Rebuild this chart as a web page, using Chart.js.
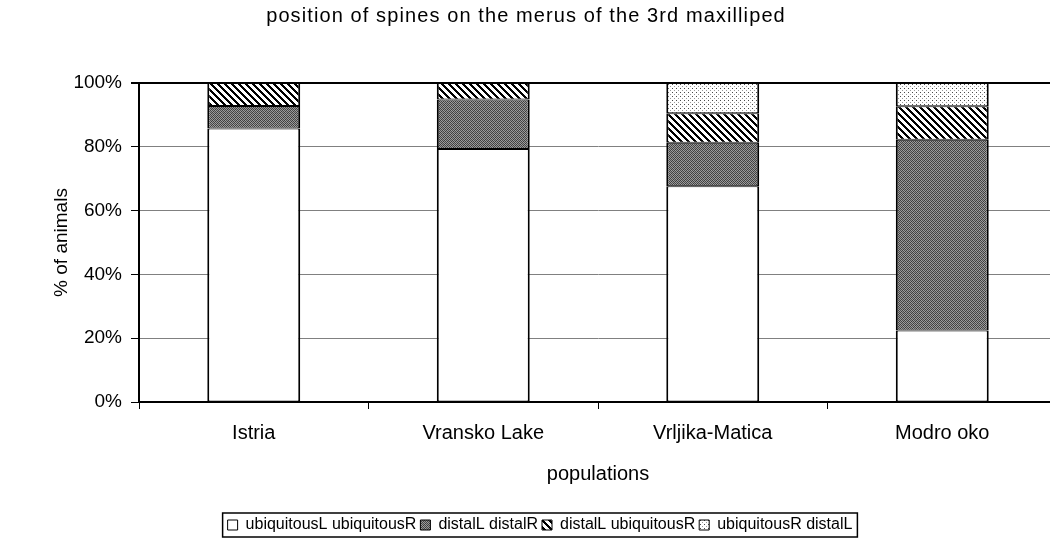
<!DOCTYPE html>
<html>
<head>
<meta charset="utf-8">
<script src="https://cdn.jsdelivr.net/npm/chart.js@4/dist/chart.umd.min.js"></script>
<style>
	body { margin: 0; overflow: hidden; background: #fff; }
	#wrap { width: 1050px; height: 549px; overflow: hidden; }
</style>
</head>
<body>
<div id="wrap"><canvas id="chart" width="1070" height="549"></canvas></div>
<script>
var chartTitle = "position of spines on the merus of the 3rd maxilliped";
var populations = ["Istria", "Vransko Lake", "Vrljika-Matica", "Modro oko"];
var seriesNames = ["ubiquitousL ubiquitousR", "distalL distalR", "distalL ubiquitousR", "ubiquitousR distalL"];
var ubiquitousLR = [85.7, 79.3, 67.6, 22.4];
var distalLR = [7.1, 15.5, 13.7, 59.8];
var distalLubiquitousR = [7.2, 5.2, 9.2, 10.5];
var ubiquitousRdistalL = [0, 0, 9.5, 7.3];
var yTicks = [0, 20, 40, 60, 80, 100];

var fontFamily = '"Liberation Sans", Arial, sans-serif';

function makePattern(size, paint) {
	var c = document.createElement("canvas");
	c.width = size;
	c.height = size;
	var g = c.getContext("2d");
	paint(g, size);
	return g.createPattern(c, "repeat");
}

// dark stipple
var stipple = makePattern(4, function (g) {
	var cells = [
		["#3e3e3e", "#a0a0a0", "#505050", "#8e8e8e"],
		["#949494", "#444444", "#9c9c9c", "#3a3a3a"],
		["#4e4e4e", "#989898", "#404040", "#a2a2a2"],
		["#9e9e9e", "#3c3c3c", "#909090", "#4a4a4a"]
	];
	for (var y = 0; y < 4; y++) {
		for (var x = 0; x < 4; x++) {
			g.fillStyle = cells[y][x];
			g.fillRect(x, y, 1, 1);
		}
	}
});

// diagonal hatch, down to the right
var hatch = makePattern(7, function (g, s) {
	g.fillStyle = "#fff";
	g.fillRect(0, 0, s, s);
	g.fillStyle = "#000";
	for (var y = 0; y < s; y++) {
		for (var x = 0; x < s; x++) {
			if ((x - y + s) % s < 3) g.fillRect(x, y, 1, 1);
		}
	}
});

// light dots
var dots = makePattern(4, function (g) {
	g.fillStyle = "#fff";
	g.fillRect(0, 0, 4, 4);
	g.fillStyle = "#4a4a4a";
	g.fillRect(0, 0, 1, 1);
	g.fillStyle = "#9a9a9a";
	g.fillRect(2, 2, 1, 1);
});

var fills = ["#ffffff", stipple, hatch, dots];
var values = [ubiquitousLR, distalLR, distalLubiquitousR, ubiquitousRdistalL];

var datasets = seriesNames.map(function (name, i) {
	return {
		label: name,
		data: values[i],
		backgroundColor: fills[i],
		borderColor: "#000",
		borderWidth: { top: 1, bottom: 1, left: 2, right: 2 },
		borderSkipped: false,
		barPercentage: 0.405,
		categoryPercentage: 1
	};
});

var extras = {
	id: "extras",
	afterDraw: function (chart) {
		var ctx = chart.ctx;
		ctx.save();
		ctx.fillStyle = "#000";
		ctx.font = "20px " + fontFamily;
		ctx.letterSpacing = "1.1px";
		ctx.textAlign = "center";
		ctx.textBaseline = "middle";
		ctx.fillText(chartTitle, 526, 16);
		ctx.letterSpacing = "0px";

		var boxes = chart.legend.legendHitBoxes;
		if (boxes && boxes.length) {
			var left = boxes[0].left - 5;
			var last = boxes[boxes.length - 1];
			var right = last.left + last.width + 5;
			var top = boxes[0].top - 4;
			var bottom = boxes[0].top + boxes[0].height + 4;
			ctx.strokeStyle = "#000";
			ctx.lineWidth = 1.5;
			ctx.strokeRect(left, top, right - left, bottom - top);
		}
		ctx.restore();
	}
};

new Chart(document.getElementById("chart").getContext("2d"), {
	type: "bar",
	data: {
		labels: populations,
		datasets: datasets
	},
	plugins: [extras],
	options: {
		responsive: false,
		animation: false,
		layout: { padding: { left: 23, right: 13, top: 83, bottom: 6 } },
		plugins: {
			title: { display: false },
			tooltip: { enabled: false },
			legend: {
				position: "bottom",
				labels: {
					color: "#000",
					font: { family: fontFamily, size: 16 },
					boxWidth: 10,
					boxHeight: 10,
					padding: 4,
					generateLabels: function (chart) {
						var items = Chart.defaults.plugins.legend.labels.generateLabels(chart);
						items.forEach(function (it) { it.lineWidth = 1; });
						return items;
					}
				}
			}
		},
		scales: {
			x: {
				stacked: true,
				afterFit: function (scale) {
					scale.height = 549 - 6 - scale.chart.legend.height - 402;
				},
				grid: { drawOnChartArea: false, drawTicks: true, tickLength: 7, tickColor: "#000" },
				border: { color: "#000", width: 2 },
				ticks: { color: "#000", padding: 12, font: { family: fontFamily, size: 20 } },
				title: {
					display: true,
					text: "populations",
					color: "#000",
					font: { family: fontFamily, size: 20 },
					padding: { top: 0, bottom: 27 }
				}
			},
			y: {
				stacked: true,
				min: 0,
				max: 100,
				afterFit: function (scale) {
					scale.width = 116;
				},
				afterBuildTicks: function (scale) {
					scale.ticks = yTicks.map(function (v) { return { value: v }; });
				},
				grid: {
					color: function (c) { return c.tick && c.tick.value === 100 ? "#000" : "#808080"; },
					lineWidth: function (c) { return c.tick && c.tick.value === 100 ? 2 : 1; },
					tickLength: 8,
					tickColor: "#000"
				},
				border: { color: "#000", width: 2 },
				ticks: {
					color: "#000",
					padding: 9,
					font: { family: fontFamily, size: 19 },
					callback: function (v) { return v + "%"; }
				},
				title: {
					display: true,
					text: "% of animals",
					color: "#000",
					font: { family: fontFamily, size: 19 },
					padding: { top: 27, bottom: 0 }
				}
			}
		}
	}
});
</script>
</body>
</html>
